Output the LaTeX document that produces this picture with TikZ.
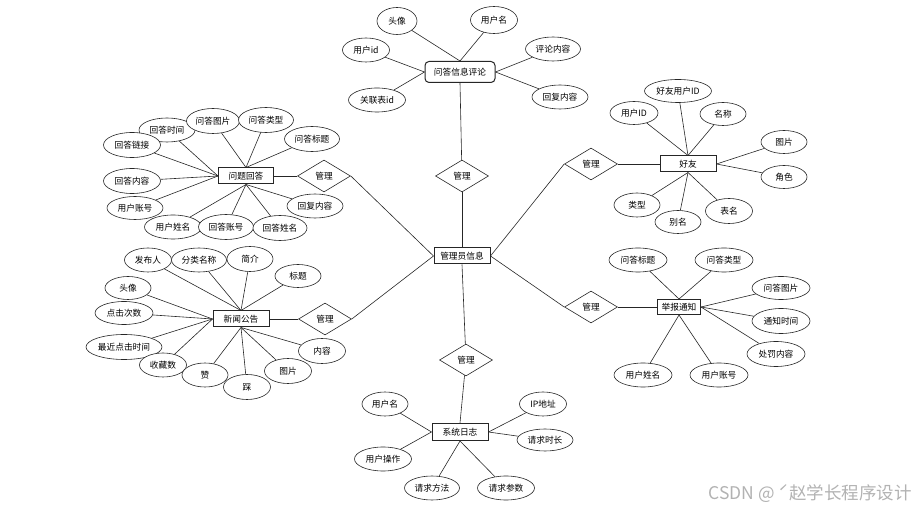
\documentclass[tikz,border=0pt]{standalone}
\usepackage{fontspec}
\setmainfont{Noto Sans CJK SC}
\usetikzlibrary{shapes.geometric}

\begin{document}
\begin{tikzpicture}[
  x=1pt,y=-1pt,
  font=\fontsize{8.7}{10}\selectfont,
  entity/.style={rectangle,draw=black!85,line width=1pt,fill=white,
    minimum width=56pt,minimum height=16pt,inner sep=1pt},
  attrib/.style={ellipse,draw=black!85,line width=0.6pt,fill=white,
    minimum width=56pt,minimum height=24pt,inner sep=0pt},
  relation/.style={diamond,draw=black!85,line width=0.6pt,fill=white,
    minimum width=53pt,minimum height=32pt,inner sep=0pt,aspect=1.65},
  link/.style={draw=black!85,line width=0.6pt},
]
\useasboundingbox (0,0) rectangle (919,510);

% center
\node[entity] (gly) at (462,256) {管理员信息};
\node[relation] (gl1) at (462,176) {管理};
\node[relation] (gl2) at (324,176) {管理};
\node[relation] (gl3) at (325,319) {管理};
\node[relation] (gl4) at (591,164) {管理};
\node[relation] (gl5) at (591,307) {管理};
\node[relation] (gl6) at (466,360) {管理};

% 问答信息评论
\node[entity,rounded corners=4pt,minimum width=70pt,minimum height=21pt] (wdpl) at (460,72) {问答信息评论};
\node[attrib,minimum width=40pt,minimum height=27pt] (pl1) at (397,21) {头像};
\node[attrib,minimum width=47pt,minimum height=27pt] (pl2) at (494,20) {用户名};
\node[attrib,minimum width=47pt] (pl3) at (366,50) {用户id};
\node[attrib,minimum width=55pt] (pl4) at (553,49) {评论内容};
\node[attrib,minimum width=57pt] (pl5) at (377,100) {关联表id};
\node[attrib] (pl6) at (560,97) {回复内容};
\draw[link] (wdpl.north) -- (pl1);
\draw[link] (wdpl.north) -- (pl2);
\draw[link] (wdpl.west) -- (pl3);
\draw[link] (wdpl.west) -- (pl5);
\draw[link] (wdpl.east) -- (pl4);
\draw[link] (wdpl.east) -- (pl6);

% 问题回答
\node[entity,minimum width=55pt] (wthd) at (246,176) {问题回答};
\node[attrib] (hd1) at (167,130) {回答时间};
\node[attrib,minimum width=53pt,minimum height=25pt] (hd2) at (213,121) {问答图片};
\node[attrib,minimum width=55pt,minimum height=25pt] (hd3) at (266,120) {问答类型};
\node[attrib,minimum width=55pt,minimum height=25pt] (hd4) at (312,139) {问答标题};
\node[attrib,minimum width=57pt,minimum height=25pt] (hd5) at (132,145) {回答链接};
\node[attrib,minimum width=57pt,minimum height=25pt] (hd6) at (132,181) {回答内容};
\node[attrib,minimum height=23pt] (hd7) at (135,208) {用户账号};
\node[attrib,minimum width=57pt] (hd8) at (173,227) {用户姓名};
\node[attrib,minimum width=55pt,minimum height=25pt] (hd9) at (226,227) {回答账号};
\node[attrib,minimum width=54pt,minimum height=25pt] (hd10) at (280,228) {回答姓名};
\node[attrib] (hd11) at (315,206) {回复内容};
\foreach \a in {hd1,hd5,hd6,hd7} \draw[link] (wthd.west) -- (\a);
\foreach \a in {hd2,hd3,hd4} \draw[link] (wthd.north) -- (\a);
\foreach \a in {hd8,hd9,hd10,hd11} \draw[link] (wthd.south) -- (\a);

% 新闻公告
\node[entity] (xwgg) at (241,319) {新闻公告};
\node[attrib,minimum width=47pt] (gg1) at (148,260) {发布人};
\node[attrib,minimum width=55pt] (gg2) at (199,260) {分类名称};
\node[attrib,minimum width=46pt,minimum height=25pt] (gg3) at (250,259) {简介};
\node[attrib,minimum width=46pt,minimum height=23pt] (gg4) at (298,276) {标题};
\node[attrib,minimum width=46pt,minimum height=23pt] (gg5) at (128,288) {头像};
\node[attrib,minimum width=58pt,minimum height=23pt] (gg6) at (124,313) {点击次数};
\node[attrib,minimum width=76pt,minimum height=25pt] (gg7) at (124,347) {最近点击时间};
\node[attrib,minimum width=47pt] (gg8) at (163,365) {收藏数};
\node[attrib,minimum width=46pt] (gg9) at (205,375) {赞};
\node[attrib,minimum width=47pt,minimum height=25pt] (gg10) at (247,387) {踩};
\node[attrib,minimum width=47pt,minimum height=25pt] (gg11) at (288,371) {图片};
\node[attrib,minimum width=47pt,minimum height=25pt] (gg12) at (322,351) {内容};
\foreach \a in {gg1,gg2,gg3,gg4} \draw[link] (xwgg.north) -- (\a);
\foreach \a in {gg5,gg6,gg7,gg8} \draw[link] (xwgg.west) -- (\a);
\foreach \a in {gg9,gg10,gg11,gg12} \draw[link] (xwgg.south) -- (\a);

% 好友
\node[entity] (hy) at (688,164) {好友};
\node[attrib,minimum width=48pt,minimum height=23pt] (hy1) at (634,113) {用户ID};
\node[attrib,minimum width=67pt,minimum height=23pt] (hy2) at (678,91) {好友用户ID};
\node[attrib,minimum width=46pt,minimum height=23pt] (hy3) at (723,114) {名称};
\node[attrib,minimum width=46pt,minimum height=23pt] (hy4) at (784,142) {图片};
\node[attrib,minimum width=46pt,minimum height=23pt] (hy5) at (784,177) {角色};
\node[attrib,minimum width=46pt] (hy6) at (637,205) {类型};
\node[attrib,minimum width=46pt,minimum height=23pt] (hy7) at (678,222) {别名};
\node[attrib,minimum width=47pt,minimum height=25pt] (hy8) at (729,211) {表名};
\foreach \a in {hy1,hy2,hy3} \draw[link] (hy.north) -- (\a);
\foreach \a in {hy4,hy5} \draw[link] (hy.east) -- (\a);
\foreach \a in {hy6,hy7,hy8} \draw[link] (hy.south) -- (\a);

% 举报通知
\node[entity,minimum width=43pt,minimum height=15pt] (jbtz) at (679,307) {举报通知};
\node[attrib,minimum width=58pt] (tz1) at (638,260) {问答标题};
\node[attrib,minimum width=58pt] (tz2) at (724,260) {问答类型};
\node[attrib,minimum width=58pt,minimum height=23pt] (tz3) at (781,288) {问答图片};
\node[attrib,minimum width=58pt,minimum height=25pt] (tz4) at (781,321) {通知时间};
\node[attrib,minimum width=58pt,minimum height=25pt] (tz5) at (776,354) {处罚内容};
\node[attrib,minimum width=58pt] (tz6) at (643,375) {用户姓名};
\node[attrib,minimum width=58pt] (tz7) at (719,375) {用户账号};
\foreach \a in {tz1,tz2} \draw[link] (jbtz.north) -- (\a);
\foreach \a in {tz3,tz4,tz5} \draw[link] (jbtz.east) -- (\a);
\foreach \a in {tz6,tz7} \draw[link] (jbtz.south) -- (\a);

% 系统日志
\node[entity,minimum height=17pt] (xtrz) at (460,432) {系统日志};
\node[attrib,minimum width=46pt] (rz1) at (385,404) {用户名};
\node[attrib,minimum width=47pt] (rz2) at (543,404) {IP地址};
\node[attrib,minimum width=56pt,minimum height=22pt] (rz3) at (545,440) {请求时长};
\node[attrib,minimum width=57pt] (rz4) at (383,459) {用户操作};
\node[attrib,minimum width=55pt] (rz5) at (432,488) {请求方法};
\node[attrib,minimum width=57pt] (rz6) at (506,488) {请求参数};
\foreach \a in {rz1,rz4} \draw[link] (xtrz.west) -- (\a);
\foreach \a in {rz2,rz3} \draw[link] (xtrz.east) -- (\a);
\foreach \a in {rz5,rz6} \draw[link] (xtrz.south) -- (\a);

% 管理
\draw[link] (wdpl.south) -- (gl1);
\draw[link] (gl1) -- (gly);
\draw[link] (wthd) -- (gl2);
\draw[link] (gl2.east) -- (gly.west);
\draw[link] (xwgg) -- (gl3);
\draw[link] (gl3.east) -- (gly.west);
\draw[link] (gly.east) -- (gl4.west);
\draw[link] (gl4) -- (hy);
\draw[link] (gly.east) -- (gl5.west);
\draw[link] (gl5) -- (jbtz);
\draw[link] (gly.south) -- (gl6);
\draw[link] (gl6) -- (xtrz.north);

\node[text=black!30,font=\fontsize{17.5}{19}\selectfont] (wm) at (810,494) {CSDN @ ˊ赵学长程序设计};
\end{tikzpicture}
\end{document}
